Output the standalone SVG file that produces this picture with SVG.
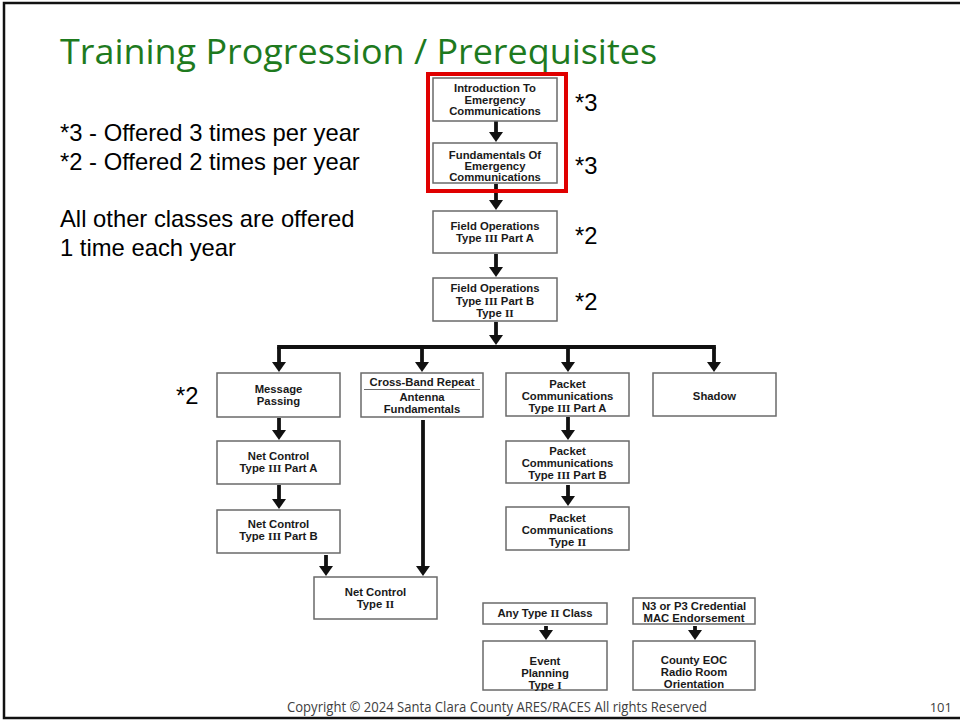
<svg xmlns="http://www.w3.org/2000/svg" width="960" height="721" viewBox="0 0 960 721">
<style>
.box{fill:#fff;stroke:#6a6a6a;stroke-width:1.5}
.bt{font-family:"Liberation Sans",Arial,sans-serif;font-weight:bold;font-size:11.3px;fill:#1a1a1a;text-anchor:middle}
.rn{font-family:"Liberation Serif","Times New Roman",serif;font-weight:bold}
.lbl{font-family:"Liberation Sans",Arial,sans-serif;font-size:23.8px;fill:#000}
.ar{stroke:#111;stroke-width:3.8;fill:none}
</style>
<defs>
<marker id="ah" viewBox="0 0 10 14" markerWidth="10" markerHeight="14" refX="2" refY="7" orient="auto" markerUnits="userSpaceOnUse">
<path d="M0,0 L10,7 L0,14 z" fill="#111"/>
</marker>
</defs>
<rect x="0" y="0" width="960" height="721" fill="#fff"/>
<rect x="4" y="3" width="970" height="715" fill="none" stroke="#111" stroke-width="2.5"/>
<text x="60" y="64" font-family="'Open Sans','Liberation Sans',sans-serif" font-size="35" fill="#1e7a1e" textLength="597" lengthAdjust="spacingAndGlyphs">Training Progression / Prerequisites</text>
<g id="legend">
<text class="lbl" x="60" y="141">*3 - Offered 3 times per year</text>
<text class="lbl" x="60" y="170">*2 - Offered 2 times per year</text>
<text class="lbl" x="60" y="227">All other classes are offered</text>
<text class="lbl" x="60" y="256">1 time each year</text>
</g>
<g id="connectors">
<line class="ar" x1="496" y1="121" x2="496" y2="134" marker-end="url(#ah)"/>
<line class="ar" x1="496" y1="184" x2="496" y2="202" marker-end="url(#ah)"/>
<line class="ar" x1="496" y1="254" x2="496" y2="269" marker-end="url(#ah)"/>
<line class="ar" x1="496" y1="322" x2="496" y2="337" marker-end="url(#ah)"/>
<line class="ar" x1="277.1" y1="347" x2="715.9" y2="347"/>
<line class="ar" x1="279" y1="347" x2="279" y2="364" marker-end="url(#ah)"/>
<line class="ar" x1="422" y1="347" x2="422" y2="364" marker-end="url(#ah)"/>
<line class="ar" x1="568" y1="347" x2="568" y2="364" marker-end="url(#ah)"/>
<line class="ar" x1="714" y1="347" x2="714" y2="364" marker-end="url(#ah)"/>
<line class="ar" x1="279" y1="418" x2="279" y2="432" marker-end="url(#ah)"/>
<line class="ar" x1="279" y1="485" x2="279" y2="501" marker-end="url(#ah)"/>
<line class="ar" x1="326" y1="555" x2="326" y2="568" marker-end="url(#ah)"/>
<line class="ar" x1="423" y1="420" x2="423" y2="568" marker-end="url(#ah)"/>
<line class="ar" x1="568" y1="417" x2="568" y2="432" marker-end="url(#ah)"/>
<line class="ar" x1="568" y1="485" x2="568" y2="498" marker-end="url(#ah)"/>
<line class="ar" x1="546" y1="626" x2="546" y2="632" marker-end="url(#ah)"/>
<line class="ar" x1="695" y1="626" x2="695" y2="632" marker-end="url(#ah)"/>
</g>
<g id="intro">
<rect class="box" x="433" y="78" width="124" height="43"/>
<text class="bt" x="495" y="92">Introduction To</text>
<text class="bt" x="495" y="104">Emergency</text>
<text class="bt" x="495" y="115">Communications</text>
</g>
<g id="fundamentals">
<rect class="box" x="433" y="143" width="124" height="40"/>
<text class="bt" x="495" y="159">Fundamentals Of</text>
<text class="bt" x="495" y="170">Emergency</text>
<text class="bt" x="495" y="181">Communications</text>
</g>
<g id="redframe">
<rect x="428" y="74" width="138" height="117" fill="none" stroke="#e00000" stroke-width="4"/>
</g>
<g id="fieldA">
<rect class="box" x="433" y="211" width="124" height="42"/>
<text class="bt" x="495" y="230">Field Operations</text>
<text class="bt" x="495" y="242">Type <tspan class="rn">III</tspan> Part A</text>
</g>
<g id="fieldB">
<rect class="box" x="433" y="278" width="124" height="43"/>
<text class="bt" x="495" y="292">Field Operations</text>
<text class="bt" x="495" y="305">Type <tspan class="rn">III</tspan> Part B</text>
<text class="bt" x="495" y="317">Type <tspan class="rn">II</tspan></text>
</g>
<g id="stars">
<text class="lbl" x="575" y="111">*3</text>
<text class="lbl" x="575" y="174">*3</text>
<text class="lbl" x="575" y="244">*2</text>
<text class="lbl" x="575" y="310">*2</text>
<text class="lbl" x="176" y="404">*2</text>
</g>
<g id="message">
<rect class="box" x="217" y="373" width="123" height="44"/>
<text class="bt" x="278.5" y="393">Message</text>
<text class="bt" x="278.5" y="405">Passing</text>
</g>
<g id="crossband">
<rect class="box" x="361" y="373" width="122" height="44"/>
<text class="bt" x="422" y="386">Cross-Band Repeat</text>
<line x1="364" y1="389.5" x2="480" y2="389.5" stroke="#6a6a6a" stroke-width="1"/>
<text class="bt" x="422" y="401">Antenna</text>
<text class="bt" x="422" y="413">Fundamentals</text>
</g>
<g id="packetA">
<rect class="box" x="506" y="373" width="123" height="43"/>
<text class="bt" x="567.5" y="388">Packet</text>
<text class="bt" x="567.5" y="400">Communications</text>
<text class="bt" x="567.5" y="412">Type <tspan class="rn">III</tspan> Part A</text>
</g>
<g id="shadow">
<rect class="box" x="653" y="373" width="123" height="43"/>
<text class="bt" x="714.5" y="400">Shadow</text>
</g>
<g id="netA">
<rect class="box" x="217" y="441" width="123" height="43"/>
<text class="bt" x="278.5" y="460">Net Control</text>
<text class="bt" x="278.5" y="472">Type <tspan class="rn">III</tspan> Part A</text>
</g>
<g id="netB">
<rect class="box" x="217" y="510" width="123" height="43"/>
<text class="bt" x="278.5" y="528">Net Control</text>
<text class="bt" x="278.5" y="540">Type <tspan class="rn">III</tspan> Part B</text>
</g>
<g id="net2">
<rect class="box" x="314" y="577" width="123" height="42"/>
<text class="bt" x="375.5" y="596">Net Control</text>
<text class="bt" x="375.5" y="608">Type <tspan class="rn">II</tspan></text>
</g>
<g id="packetB">
<rect class="box" x="506" y="441" width="123" height="42"/>
<text class="bt" x="567.5" y="455">Packet</text>
<text class="bt" x="567.5" y="467">Communications</text>
<text class="bt" x="567.5" y="479">Type <tspan class="rn">III</tspan> Part B</text>
</g>
<g id="packet2">
<rect class="box" x="506" y="507" width="123" height="43"/>
<text class="bt" x="567.5" y="522">Packet</text>
<text class="bt" x="567.5" y="534">Communications</text>
<text class="bt" x="567.5" y="546">Type <tspan class="rn">II</tspan></text>
</g>
<g id="anytype2">
<rect class="box" x="483" y="603" width="124" height="21"/>
<text class="bt" x="545" y="617">Any Type <tspan class="rn">II</tspan> Class</text>
</g>
<g id="event">
<rect class="box" x="483" y="641" width="124" height="49"/>
<text class="bt" x="545" y="665">Event</text>
<text class="bt" x="545" y="677">Planning</text>
<text class="bt" x="545" y="689">Type <tspan class="rn">I</tspan></text>
</g>
<g id="n3p3">
<rect class="box" x="633" y="598" width="122" height="26"/>
<text class="bt" x="694" y="610">N3 or P3 Credential</text>
<text class="bt" x="694" y="622">MAC Endorsement</text>
</g>
<g id="countyeoc">
<rect class="box" x="633" y="641" width="122" height="49"/>
<text class="bt" x="694" y="664">County EOC</text>
<text class="bt" x="694" y="676">Radio Room</text>
<text class="bt" x="694" y="688">Orientation</text>
</g>
<text x="287" y="712" font-family="'Open Sans','Liberation Sans',sans-serif" font-size="14" fill="#404040" textLength="420" lengthAdjust="spacingAndGlyphs">Copyright © 2024 Santa Clara County ARES/RACES All rights Reserved</text>
<text x="952" y="712" font-family="'Open Sans','Liberation Sans',sans-serif" font-size="13" fill="#404040" text-anchor="end">101</text>
</svg>
